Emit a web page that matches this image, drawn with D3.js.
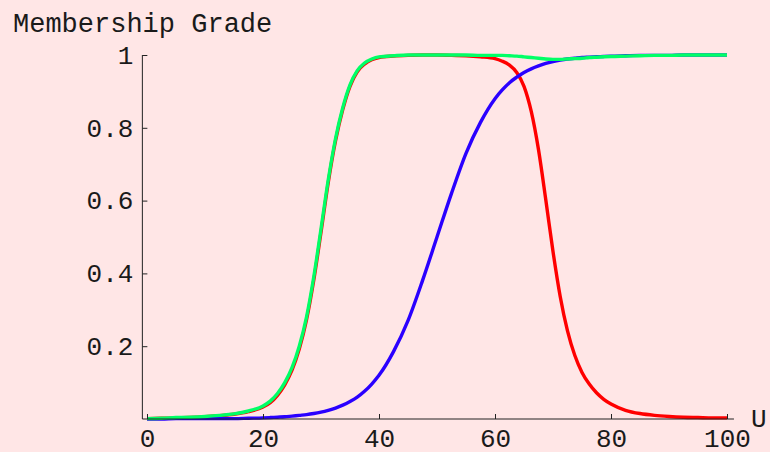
<!DOCTYPE html>
<html>
<head>
<meta charset="utf-8">
<script src="https://cdn.jsdelivr.net/npm/d3@7"></script>
<style>
  body { margin: 0; background: #ffe6e6; }
  svg { display: block; }
  text { font-family: "Courier New", "Liberation Mono", monospace; fill: #1a1a1a; }
</style>
</head>
<body>
<script>
var width = 770;
var height = 452;

// sample points on U, finer where the curves are steep
var uValues = [0, 2.5, 5, 7.5, 10, 12.5, 15, 17.5,
  20, 21.25, 22.5, 23.75, 25, 26.25, 27.5, 28.75, 30, 31.25, 32.5, 33.75, 35, 36.25, 37.5, 38.75, 40,
  42.5, 45, 47.5, 50, 52.5, 55, 57.5,
  60, 61.25, 62.5, 63.75, 65, 66.25, 67.5, 68.75, 70, 71.25, 72.5, 73.75, 75, 76.25, 77.5, 78.75, 80,
  82.5, 85, 87.5, 90, 92.5, 95, 97.5, 100];

// red curve
var redValues = [0.001, 0.002, 0.003, 0.004, 0.006, 0.009, 0.013, 0.02,
  0.033, 0.045, 0.065, 0.094, 0.134, 0.192, 0.272, 0.381, 0.513, 0.65, 0.764, 0.85, 0.914, 0.954, 0.975, 0.987, 0.993,
  0.997, 0.999, 1, 1, 0.999, 0.998, 0.995,
  0.99, 0.983, 0.972, 0.952, 0.914, 0.845, 0.74, 0.603, 0.46, 0.336, 0.242, 0.175, 0.128, 0.096, 0.072, 0.054, 0.041,
  0.024, 0.015, 0.01, 0.007, 0.005, 0.004, 0.003, 0.003];

// blue curve
var blueValues = [0, 0, 0.001, 0.001, 0.001, 0.001, 0.001, 0.002,
  0.003, 0.004, 0.005, 0.006, 0.008, 0.01, 0.012, 0.015, 0.019, 0.024, 0.03, 0.038, 0.048, 0.06, 0.076, 0.096, 0.12,
  0.185, 0.27, 0.38, 0.5, 0.62, 0.73, 0.815,
  0.88, 0.904, 0.924, 0.939, 0.952, 0.962, 0.97, 0.977, 0.982, 0.986, 0.989, 0.991, 0.993, 0.994, 0.995, 0.996, 0.997,
  0.998, 0.999, 0.999, 0.999, 1, 1, 1, 1];

// green curve
var greenValues = [0.001, 0.002, 0.004, 0.005, 0.007, 0.01, 0.014, 0.022,
  0.036, 0.049, 0.07, 0.1, 0.141, 0.2, 0.28, 0.39, 0.522, 0.657, 0.77, 0.855, 0.918, 0.957, 0.978, 0.989, 0.995,
  0.998, 1, 1, 1, 1, 1, 0.999,
  0.999, 0.999, 0.998, 0.997, 0.995, 0.993, 0.991, 0.989, 0.988, 0.988, 0.989, 0.99, 0.991, 0.993, 0.994, 0.995, 0.996,
  0.997, 0.998, 0.999, 0.999, 1, 1, 1, 1];

var xMajor = [0, 20, 40, 60, 80, 100];
var xMinor = [5, 10, 15, 25, 30, 35, 45, 50, 55, 65, 70, 75, 85, 90, 95];
var yMajor = [0.2, 0.4, 0.6, 0.8, 1];
var yMinor = [0.05, 0.1, 0.15, 0.25, 0.3, 0.35, 0.45, 0.5, 0.55, 0.65, 0.7, 0.75, 0.85, 0.9, 0.95];
var xAxisExtent = [-0.8, 101.2];

var x = d3.scaleLinear().domain([0, 100]).range([147, 727]);
var y = d3.scaleLinear().domain([0, 1]).range([419, 55]);

var svg = d3.select("body").append("svg")
  .attr("width", width)
  .attr("height", height);

svg.append("rect")
  .attr("width", width)
  .attr("height", height)
  .attr("fill", "#ffe6e6");

var line = d3.line()
  .x(function (d) { return x(d[0]); })
  .y(function (d) { return y(d[1]); })
  .curve(d3.curveMonotoneX);

var series = [
  {values: redValues, color: "#ff0000"},
  {values: blueValues, color: "#2a00ff"},
  {values: greenValues, color: "#00ff66"}
];

svg.selectAll("path.curve")
  .data(series)
  .enter()
  .append("path")
  .attr("class", "curve")
  .attr("d", function (s) { return line(uValues.map(function (u, i) { return [u, s.values[i]]; })); })
  .attr("fill", "none")
  .attr("stroke", function (s) { return s.color; })
  .attr("stroke-width", 3.4);

// axes, ticks point inward like the original
var xAxisG = svg.append("g").attr("transform", "translate(0," + y(0) + ")");
xAxisG.call(d3.axisBottom(x).tickValues(xMinor).tickSize(-3).tickFormat(""));
xAxisG.call(d3.axisBottom(x).tickValues(xMajor).tickSize(-5).tickPadding(10).tickFormat(d3.format("d")));

var yAxisG = svg.append("g").attr("transform", "translate(" + x(xAxisExtent[0]) + ",0)");
yAxisG.call(d3.axisLeft(y).tickValues(yMinor).tickSize(-3).tickFormat(""));
yAxisG.call(d3.axisLeft(y).tickValues(yMajor).tickSize(-5).tickPadding(9).tickFormat(function (d) { return d === 1 ? "1" : d3.format(".1f")(d); }));

svg.selectAll(".domain").remove();
svg.selectAll(".tick line").attr("stroke", "#222");
svg.selectAll(".tick text").style("font-size", "26px").attr("fill", "#1a1a1a");

svg.append("line")
  .attr("x1", x(xAxisExtent[0])).attr("x2", x(xAxisExtent[1]))
  .attr("y1", y(0)).attr("y2", y(0))
  .attr("stroke", "#222");
svg.append("line")
  .attr("x1", x(xAxisExtent[0])).attr("x2", x(xAxisExtent[0]))
  .attr("y1", y(0)).attr("y2", y(1))
  .attr("stroke", "#222");

svg.append("text")
  .attr("x", 13)
  .attr("y", 32)
  .style("font-size", "27px")
  .text("Membership Grade");

svg.append("text")
  .attr("x", x(xAxisExtent[1]) + 17)
  .attr("y", y(0) + 8)
  .style("font-size", "26px")
  .text("U");
</script>
</body>
</html>
